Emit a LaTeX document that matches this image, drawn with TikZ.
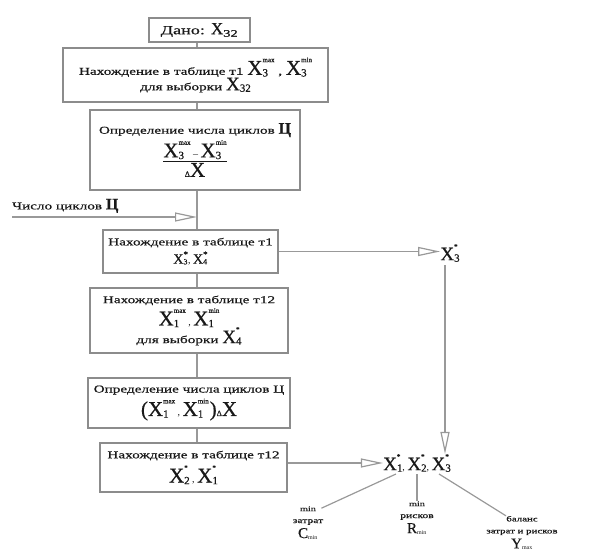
\documentclass[tikz,border=0pt]{standalone}
\usepackage{fontspec}
\usepackage{amsmath}
\setmainfont{Liberation Serif}
\newfontfamily\wide[FakeStretch=1.45,FakeBold=0.6]{Liberation Serif}
\newfontfamily\xf[FakeBold=0.6]{Liberation Serif}
\usetikzlibrary{arrows.meta,calc}
\newsavebox\supbox
\newsavebox\subbox
\newcommand{\BX}[3][21]{{\xf\fontsize{#1}{#1}\selectfont X\sbox\supbox{\fontsize{7}{7}\selectfont #3}\sbox\subbox{\fontsize{11}{11}\selectfont #2}\makebox[0pt][l]{\raisebox{0.6em}{\usebox\supbox}}\raisebox{-0.08em}{\usebox\subbox}\ifdim\wd\supbox>\wd\subbox\kern\dimexpr\wd\supbox-\wd\subbox\relax\fi}}
\newcommand{\SX}[2]{{\xf\fontsize{14}{14}\selectfont X\sbox\supbox{\fontsize{9}{9}\selectfont #2}\sbox\subbox{\fontsize{8}{8}\selectfont #1}\makebox[0pt][l]{\raisebox{0.45em}{\usebox\supbox}}\raisebox{-0.05em}{\usebox\subbox}\ifdim\wd\supbox>\wd\subbox\kern\dimexpr\wd\supbox-\wd\subbox\relax\fi}}
\newcommand{\sm}{\wide\fontsize{10.5}{13}\selectfont}
\newcommand{\CC}{{\xf\fontsize{16}{16}\selectfont\bfseries Ц}}
\newcommand{\DX}{{\xf\fontsize{8}{8}\selectfont Δ}{\xf\fontsize{21}{21}\selectfont X}}
\newcommand{\BP}[1]{{\xf\fontsize{21}{21}\selectfont #1}}
\begin{document}
\begin{tikzpicture}[x=1pt,y=-1pt,
  box/.style={draw=black!45, line width=1.4pt, fill=white, inner sep=1pt, align=center, text=black!90},
  lnk/.style={draw=black!40, line width=1.2pt},
  arr/.style={lnk, -{Triangle[open,length=22pt,width=9pt]}},
  lab/.style={align=center, text=black!90, inner sep=0pt}]
\useasboundingbox (0,0) rectangle (590,551);
\coordinate (tx) at (197,0);
\node[box, minimum width=101pt, minimum height=24pt] (b1) at (199.5,30) {\wide\fontsize{12.5}{13}\selectfont Дано: {\xf\fontsize{17}{17}\selectfont X}\textsubscript{\fontsize{10}{10}\selectfont 32}};
\node[box, minimum width=265pt, minimum height=54pt] (b2) at (195.5,75)
  {\sm Нахождение в таблице т1 \BX{3}{max} , \BX{3}{min}\\[0pt] \sm для выборки \BX[19]{32}{}};
\node[box, minimum width=210pt, minimum height=80pt] (b3) at (195,150)
  {\sm Определение числа циклов \CC\\[2pt]
   $\dfrac{\text{\BX{3}{max} – \BX{3}{min}}}{\text{\DX}}$};
\node[box, minimum width=175pt, minimum height=43pt] (b4) at (190.5,251.5)
  {\sm Нахождение в таблице т1\\[3pt] \SX{3}{*}, \SX{4}{*}};
\node[box, minimum width=198pt, minimum height=65pt] (b5) at (189,320.5)
  {\sm Нахождение в таблице т12\\[2pt] \BX{1}{max} , \BX{1}{min}\\[-1pt] \sm для выборки \BX[19]{4}{*}};
\node[box, minimum width=202pt, minimum height=50pt] (b6) at (189,403)
  {\sm Определение числа циклов Ц\\[3pt] \BP{(}\BX{1}{max} , \BX{1}{min}\kern1pt\BP{)}\DX};
\node[box, minimum width=187pt, minimum height=49pt] (b7) at (193.5,467.5)
  {\sm Нахождение в таблице т12\\[4pt] \BX{2}{*} , \BX{1}{*}};
\node[lab] (x3) at (450,253) {\BX[19]{3}{*}};
\node[lab] (xs) at (417,463) {\BX[19]{1}{*}, \BX[19]{2}{*}, \BX[19]{3}{*}};
\node[lab, anchor=south west] (cin) at (12,213) {\sm Число циклов {\xf\fontsize{16}{16}\selectfont\bfseries Ц}};
\coordinate (cst) at (12,217);
\node[lab] (lc) at (308,523) {\wide\fontsize{7}{8}\selectfont min\\ \wide\fontsize{8}{9}\selectfont затрат\\[3pt] {\xf\fontsize{15}{15}\selectfont C}\textsubscript{\fontsize{6}{6}\selectfont min}};
\node[lab] (lr) at (417,518) {\wide\fontsize{7}{8}\selectfont min\\ \wide\fontsize{8}{9}\selectfont рисков\\[3pt] {\xf\fontsize{15}{15}\selectfont R}\textsubscript{\fontsize{6}{6}\selectfont min}};
\node[lab] (ly) at (522,533) {\wide\fontsize{7.5}{8.5}\selectfont баланс\\ \wide\fontsize{7.5}{8.5}\selectfont затрат и рисков\\[3pt] {\xf\fontsize{15}{15}\selectfont Y}\textsubscript{\fontsize{6}{6}\selectfont max}};
% trunk
\draw[lnk] (b1.south -| tx) -- (b2.north -| tx);
\draw[lnk] (b2.south -| tx) -- (b3.north -| tx);
\draw[lnk] (b3.south -| tx) -- (b4.north -| tx);
\draw[lnk] (b4.south -| tx) -- (b5.north -| tx);
\draw[lnk] (b5.south -| tx) -- (b6.north -| tx);
\draw[lnk] (b6.south -| tx) -- (b7.north -| tx);
\draw[arr] (cst) -- (cst -| tx);
% right side
\coordinate (vt) at ($(x3.south)+(-5,3)$);
\coordinate (vb) at (vt |- xs.north);
\draw[arr] (b4.east) -- (b4.east -| x3.west);
\draw[arr] (vt) -- (vb);
\draw[arr] (b7.east |- xs.west) -- (xs.west);
% outputs
\coordinate (o1) at ($(xs.south west)+(13,2)$);
\coordinate (o2) at ($(xs.south)+(0,2)$);
\coordinate (o3) at ($(xs.south east)+(-12,2)$);
\draw[lnk] (o1) -- ($(lc.north east)+(-2,2)$);
\draw[lnk] (o2) -- (lr.north);
\draw[lnk] (o3) -- ($(ly.north)+(-16,0)$);
\end{tikzpicture}
\end{document}
